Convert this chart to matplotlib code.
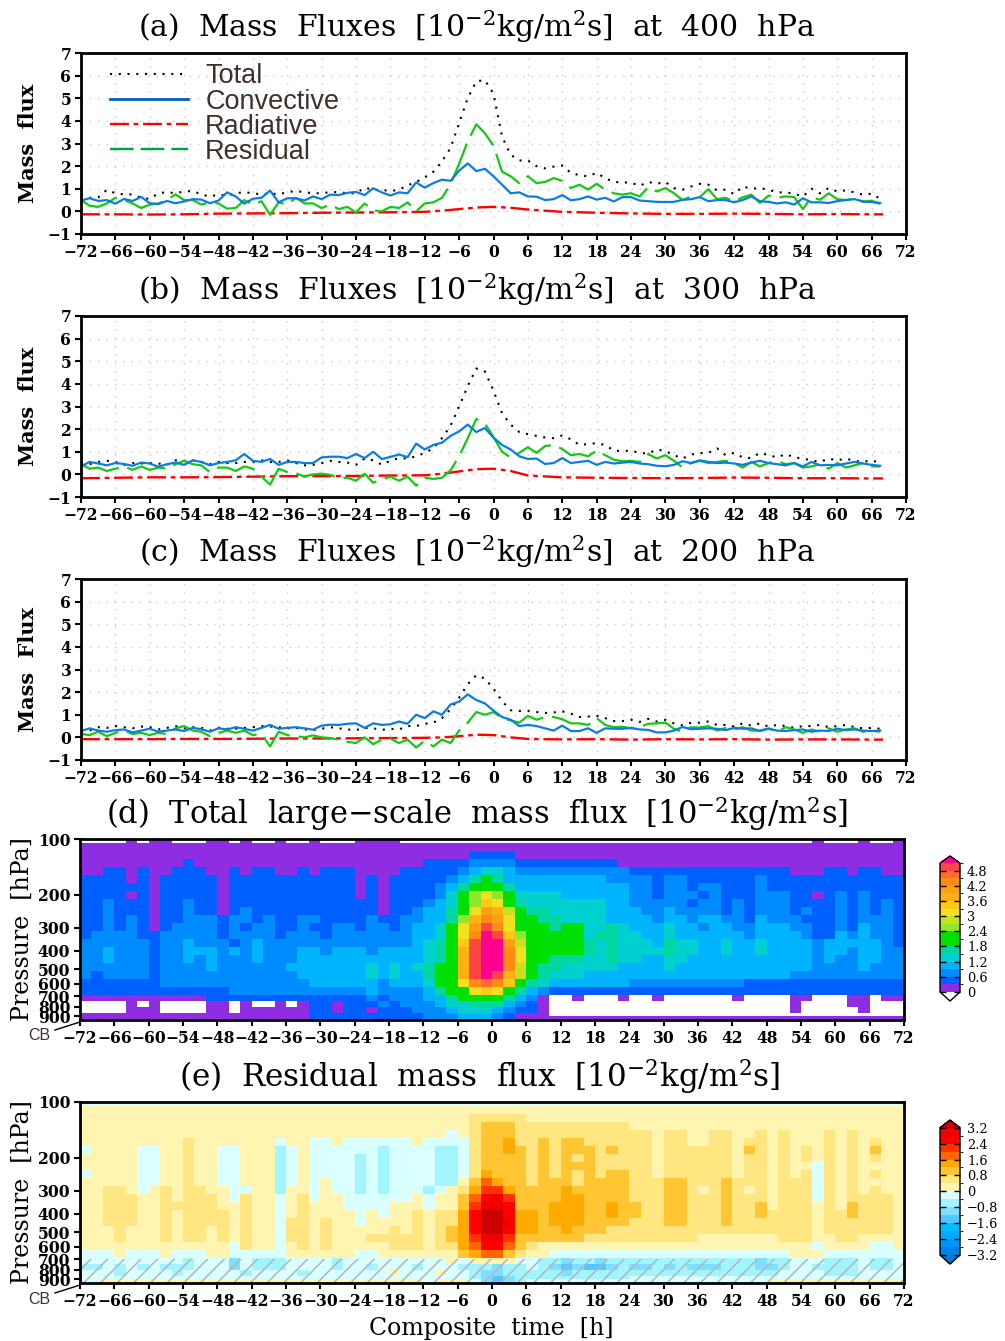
import numpy as np
import matplotlib
matplotlib.use("Agg")
import matplotlib.pyplot as plt
from matplotlib.colors import ListedColormap, BoundaryNorm
from matplotlib.lines import Line2D

W, H = 1005, 1341
plt.rcParams['font.family'] = ['DejaVu Serif']
plt.rcParams['mathtext.fontset'] = 'dejavuserif'
plt.rcParams['hatch.linewidth'] = 1.1

# time axis of the line panels (1.5 h steps)
time = np.arange(-72, 68, 1.5)
rad_time = [-72, -66, -60, -54, -48, -42, -36, -30, -24, -18, -12, -9, -6, -3, 0, 3,
            6, 12, 18, 24, 30, 36, 42, 48, 54, 60, 66, 68]

total_a = [.74, .60, .62, .95, .80, .75, .75, .60, .55, .80,
           .85, .80, .88, .90, .75, .65, .75, .70, .80, .85,
           .80, .75, .80, .75, .85, .90, .85, .80, .80, .85,
           .85, .80, .80, 1.05, .95, .95, .90, .95, 1.15, 1.30,
           1.50, 1.75, 2.20, 2.80, 3.90, 5.00, 5.75, 5.80, 5.20, 3.30,
           2.50, 2.25, 2.25, 2.00, 1.90, 1.98, 2.03, 1.70, 1.60, 1.55,
           1.70, 1.47, 1.30, 1.28, 1.27, 1.13, 1.30, 1.22, 1.30, 1.03,
           .96, 1.10, 1.22, 1.18, .93, .96, .76, 1.10, 1.00, 1.03,
           .96, .84, .84, .78, .66, 1.00, .80, 1.03, .88, .93,
           .84, .74, .78, .56]
conv_a = [.48, .58, .46, .50, .34, .55, .46, .64, .36, .32,
          .46, .36, .44, .54, .52, .36, .48, .84, .66, .34,
          .56, .60, .92, .40, .58, .58, .48, .66, .54, .74,
          .72, .82, .86, .72, 1.02, .84, .70, .84, .80, 1.28,
          1.05, 1.25, 1.40, 1.35, 1.80, 2.12, 1.78, 1.88, 1.55, 1.18,
          .80, .84, .66, .65, .50, .54, .72, .49, .54, .66,
          .52, .60, .44, .63, .63, .48, .45, .42, .41, .42,
          .51, .54, .63, .45, .50, .50, .40, .50, .66, .45,
          .42, .35, .40, .30, .58, .40, .40, .37, .45, .50,
          .54, .44, .41, .37]
resid_a = [.50, .25, .20, .35, .60, .50, .35, .15, .30, .35,
           .50, .75, .50, .50, .30, .40, .35, .12, .15, .50,
           .30, .45, -.15, .40, .30, .60, .35, .35, .15, .30,
           .10, .20, -.05, .35, .05, .00, .20, .15, .40, .00,
           .35, .40, .60, 1.20, 2.10, 3.10, 3.85, 3.45, 2.90, 1.75,
           1.55, 1.25, 1.55, 1.25, 1.30, 1.47, 1.35, 1.03, 1.18, .96,
           1.22, .96, .80, .74, .80, .66, 1.07, .88, 1.03, .80,
           .50, .66, .63, .98, .54, .60, .44, .62, .74, .37,
           .70, .60, .66, .63, .10, .63, .51, .80, .54, .50,
           .57, .42, .47, .33]
rad_a = [-.13, -.13, -.14, -.13, -.10, -.09, -.08, -.06, -.05, -.04, -.02, .03, .10, .17, .20, .16,
         .08, -.02, -.06, -.09, -.11, -.11, -.10, -.11, -.13, -.12, -.13, -.13]

total_b = [.5, .45, .55, .6, .55, .42, .5, .48, .5, .48, .42, .62, .6, .62, .55, .45, .55, .5, .5, .55,
           .55, .62, .55, .55, .62, .5,
           .4, .42, .5, .6, .55, .52, .42, .7, .62, .43, .6, .72, .7, .8, .95, 1.15, 1.6, 2.15, 3.0, 3.9,
           4.68, 4.55, 3.7, 2.7, 2.2, 1.87, 1.78, 1.7, 1.63, 1.6, 1.72, 1.55, 1.3, 1.34, 1.38, 1.3, 1.05,
           1.03, 1.05, .95, .92, 1.1, 1.03, .85, .7, .88, .94,
           .95, 1.15, .85, .95, .75, .72, .95, .85, .75, .9, .75, .7, .62, .55, .7, .62, .7, .6, .55, .62, .5]
conv_b = [.35, .55, .48, .4, .5, .46, .38, .52, .48, .34, .45, .52, .42, .62, .55, .4, .5, .55, .62, .9,
          .6, .55, .68, .42, .55, .55,
          .5, .5, .75, .78, .78, .72, .9, .72, 1.0, .68, .77, .88, .76, 1.36, 1.1, 1.3, 1.4, 1.7, 1.9, 2.2,
          1.87, 2.05, 1.62, 1.3, 1.1, .8, .68, .7, .46, .5, .72, .5, .55, .6, .42, .55, .48, .52, .55, .48,
          .45, .38, .36, .42, .58, .5, .62,
          .55, .5, .52, .48, .42, .52, .6, .5, .45, .4, .5, .35, .55, .4, .42, .4, .48, .55, .48, .42, .38]
resid_b = [.45, .25, .3, .15, .25, .35, .2, .35, .2, .3, .25, .45, .6, .45, .4, .1, .3, .3, .15, .35,
           .25, -.1, -.45, .25, .1, .05,
           -.1, .0, .03, -.02, -.18, -.15, -.28, .03, -.37, -.22, -.1, -.28, -.1, -.5, -.15, -.2, -.15, .18,
           .8, 1.6, 2.45, 2.25, 1.65, 1.0, .75, .95, 1.2, .95, 1.25, 1.3, 1.12, .85, .9, .8, 1.05, .85, .65,
           .58, .6, .55, .9, .7, .85, .6, .3, .5, .6,
           .5, .55, .6, .5, .3, .55, .35, .5, .6, .45, .5, .3, .35, .45, .25, .5, .3, .4, .5, .35, .35]
rad_b = [-.17, -.15, -.13, -.13, -.12, -.10, -.08, -.08, -.07, -.05, -.04, .03, .13, .23, .25, .15,
         -.05, -.13, -.15, -.16, -.17, -.16, -.14, -.15, -.17, -.17, -.18, -.18]

total_c = [.25, .3, .45, .42, .5, .45, .4, .48, .45, .35, .42, .5, .4, .45, .42, .3, .42, .38, .38, .42,
           .45, .5, .48, .45, .4, .42,
           .35, .33, .38, .45, .4, .35, .32, .42, .4, .33, .38, .35, .5, .5, .6, .65, .85, 1.25, 1.75, 2.35,
           2.75, 2.6, 2.15, 1.6, 1.2, 1.17, 1.17, 1.12, 1.08, 1.1, 1.15, 1.05, .9, .92, .95, .85, .72, .72,
           .78, .68, .82, .7, .77, .62, .53, .65, .65,
           .7, .55, .55, .48, .62, .52, .62, .48, .55, .5, .42, .5, .5, .55, .45, .5, .55, .45, .4, .42, .38]
conv_c = [.28, .4, .3, .25, .32, .35, .22, .3, .38, .25, .3, .35, .28, .42, .36, .25, .4, .35, .45, .38,
          .3, .42, .55, .38, .42, .45,
          .4, .34, .52, .56, .55, .6, .62, .42, .62, .55, .58, .7, .6, 1.0, .85, 1.15, 1.0, 1.45, 1.58, 1.9,
          1.65, 1.5, 1.18, .9, .78, .5, .55, .5, .4, .3, .52, .28, .28, .4, .2, .4, .38, .38, .41, .35, .33,
          .22, .22, .3, .46, .36, .38,
          .4, .38, .32, .42, .38, .4, .28, .38, .3, .28, .32, .35, .25, .3, .28, .38, .32, .35, .3, .28, .3]
resid_c = [.15, .1, .25, .05, .2, .3, .15, .2, .1, .2, .15, .4, .5, .3, .25, .05, .2, .3, .2, .3,
           .1, .15, -.4, .25, .1, .05,
           .0, .09, .0, -.03, -.1, -.2, -.25, .0, -.3, -.1, -.05, -.25, -.1, -.45, -.15, -.4, -.1, -.25, .3,
           .65, 1.12, 1.0, 1.12, .85, .75, .65, .95, .78, .9, .9, .8, .62, .62, .55, .85, .55, .45, .47, .4,
           .45, .6, .62, .65, .38, .25, .45, .43,
           .5, .3, .42, .35, .45, .3, .3, .4, .25, .45, .35, .2, .35, .25, .4, .25, .35, .4, .25, .3, .25]
rad_c = [-.08, -.08, -.08, -.07, -.07, -.06, -.05, -.05, -.04, -.03, -.02, .0, .05, .12, .10, .0,
         -.07, -.09, -.08, -.10, -.08, -.09, -.08, -.10, -.09, -.09, -.10, -.10]

# grid of the two shaded panels: 2 h columns, rows between these pressures
time_edges = np.arange(-72, 73, 2)
plev_edges = [100, 105, 116, 128, 141, 156, 172, 190, 210, 232, 256, 283, 312, 345, 381, 421,
              465, 513, 567, 626, 691, 743, 800, 861, 893, 940]

# panel d: one character per cell, the index of the 0.3 wide class ('.' = below 0)
total_rows = [
    "....0.00...00.0..0..0...0" "000...................." "................0...0..0",
    "0000000000000000000000000" "00000000000000000000000" "000000000000000000000000",
    "0000000000000000000000000" "00000000011110000000000" "000000000000000000000000",
    "0000000001000000000000000" "00000111122221111111110" "000000000000000000000000",
    "0011010011100101100101110" "00011111234432222222222" "111111111111110001101100",
    "1111010111110111111111110" "10111112356533333333322" "221221111112111111111111",
    "1111110111110111111111110" "10111123567653333333333" "221221221112111111111111",
    "1111010111110111111111110" "1011112468a864444333333" "221222121112221101212111",
    "1121110112110111111111111" "1011123468ba75444444433" "222221221212221111212121",
    "1121110112110121111111111" "101123357adc96554444433" "322322221212221211212121",
    "1121210112221221211221111" "21122335" "8ced" "a76" "55" "444433" "332332332213222111212221",
    "1121210122221212211211221" "22123346" "adgea7" "665664454" "333433233223332211213221",
    "1222211222221222212221222" "2222334" "6aehgb8" "66666" "4554" "433433333323333211323221",
    "2222221223222123222222222" "2222345" "7bghhd9" "66666" "5454" "443544334334333323333321",
    "2232221223332323222332333" "2333345" "7cghhea" "66666" "5454" "444544334334333323323322",
    "2232221223232223222333333" "3333345" "7cghhea" "66555" "4454" "433443333333333323223322",
    "222222" "1" "2222" "3" "222222" "3333333" "4343456" "7cghhe9" "65544" "4443" "333433333333" "333322223222",
    "2122221222222222222333333" "4343356" "7cghgc9" "65444" "3333" "333333333333" "332222222222",
    "1111111" "2222222222222" "33333" "3233346" "7aefeb6" "54333" "3333" "222222222211" "111111111111",
    "1111111111111" "222222222222" "3222235" "67aba65" "32111" "1111" "111111111111" "111111111111",
    "00000000000" "11111" "111111111" "2122233" "5666653" "20..0" "...0" "..0......0.." "..00...00.00",
    "....0.0....00.0..0.011011" "1212223" "4455532" "10..." "...." "............" "..0....00...",
    "....000....00.000000" "11011" "0111222" "3444321" "10..." "...." "............" "..0.....0...",
    "00000000000000000000" "11111" "1111122" "2333210" "00..." "...." "............" "............",
    "00000000000000000000" "11111" "1111122" "2333210" "00000" "0000" "000000000000" "000000000000",
]

# panel e: one character per cell, '1'-'9' above 0 and 'a'-'e' below 0
resid_classes = {'1': .2, '2': .6, '3': 1.0, '4': 1.4, '5': 1.8, '6': 2.2, '7': 2.6, '8': 3.0, '9': 3.4,
                 'a': -.2, 'b': -.6, 'c': -1.0, 'd': -1.4, 'e': -1.8}
resid_rows = [
    "a" * 72,
    "1" * 72,
    "1" * 34 + "22222" + "1" * 33,
    "1" * 34 + "23332" + "222222222" + "1" * 24,
    "1" * 25 + "1111111a1" "23332" "222222222" "221221122112" "121112121111",
    "1111111112" "1111111" "a" "11" "aa" "1" "aa" "aaaa1aaaa" "23342" "232332222" "221221122122" "121112121211",
    "a1111aa11211aa111ba1aaaaa" "abaaaabba" "23343" "232333232" "221222222132" "121212121311",
    "11111aa11211aa111ba1aaaab" "abaaaabba" "23333" "232323222" "221222222122" "121212121211",
    "11111aa11211aa111ba1aaaab" "abaaaabba" "23333" "232333222" "221222222122" "1211a2121111",
    "a1111aa11211aa111ba1aaaab" "abaaaabba" "24333" "232323233" "221222222122" "1212a2121211",
    "11111aa11211aa111ba1a1aab" "abaaaabb1" "35433" "233323333" "222332223222" "1222a2121111",
    "11221a1212211aa11b11a1aab" "abaaaba12" "46643" "333433333" "222332123212" "1222a2121211",
    "1122211212221a211a12a11aa" "aaaa1a113" "57863" "333443333" "222332223222" "1222a2122221",
    "11222112222211211a12111aa" "aa111a113" "68873" "334443343" "322332223223" "122212132221",
    "112221121222212" "11a12" "1111a" "1a1121224" "79974" "434443343" "322332223223" "222212232221",
    "112221121222212" "11a22" "1211a" "111121224" "79984" "434443333" "222332223222" "222212222221",
    "111211121221212" "11a22" "12111" "112121234" "79974" "433433322" "222222222222" "222212222221",
    "111211121221212" "11a22" "12111" "222221234" "68863" "333332222" "222222111111" "122211221111",
    "1111111111111a2" "11a12" "12111" "112221224" "57753" "211111111" "111111111111" "1111a1111aa1",
    "aaa1aaa1aaa11aaaaa111111a" "a11111113" "45532" "11aaaaaaa" "aaaaaaaaaaaa" "aa111aaaaaaa",
    "aaaaaaaaabaaacabbbaaaabaa" "aaaaaaa1a" "1111a" "abbcbbcbb" "bbbbbbbbbbbc" "bbaaabbbabba",
    "bbabababbbaaacabbbaaaabaa" "baaabaaab" "bbcbb" "abcdcddcb" "ccbcbcccbbbc" "cbaabbbbabba",
    "aaabaaaabaaaaabaaaabaaaaa" "aa1aaa1aa" "bccbb" "bbbcbbbbb" "bbbbbbbbbbbb" "baaaabbbaaaa",
    "a" * 25 + "aaaaaaaaa" "bcdcb" "bbbbbbbbb" "aaaaaaaaaaaa" "aaaaaaaaaaaa",
    "aa" + "1" * 23 + "11111a111" "acdcb" "aaaaaaaaa" "aaaaaaaaaaaa" "111111111111",
]

total_levels = np.arange(0, 5.2, 0.3)
total_colors = ['#8e2de2', '#0060ff', '#008cff', '#00b4ff', '#00d0d0', '#00d8a0', '#00e000', '#00e000',
                '#90e628', '#c8e020', '#f5e020', '#ffc814', '#ffb014', '#ffa010', '#ff8a14', '#ff6a2e', '#ff4646']
resid_levels = np.arange(-3.2, 3.3, 0.4)
resid_colors = ['#0082e6', '#0096f5', '#00aaff', '#00beff', '#50c8ff', '#80dfff', '#a0f5ff', '#d9ffff',
                '#fff5b0', '#ffe680', '#ffc533', '#ffaa00', '#ff6600', '#ff3300', '#ff0000', '#f00000']

xticks = np.arange(-72, 73, 6)
pticks = [100, 200, 300, 400, 500, 600, 700, 800, 900]
brown = '#40302c'

fig = plt.figure(figsize=(W / 100, H / 100), dpi=100)


def px_axes(x0, y0, x1, y1):
    return fig.add_axes([x0 / W, 1 - y1 / H, (x1 - x0) / W, (y1 - y0) / H])


def px_text(x, y, s, **kw):
    kw.setdefault('ha', 'center')
    kw.setdefault('va', 'center')
    return fig.text(x / W, 1 - y / H, s, **kw)


def style_axis(ax):
    for s in ax.spines.values():
        s.set_linewidth(2)
    ax.set_xlim(-72, 72)
    ax.set_xticks(xticks)
    ax.tick_params(axis='both', which='major', length=4, width=1.5, pad=3)
    for lab in ax.get_xticklabels() + ax.get_yticklabels():
        lab.set_fontweight('bold')
        lab.set_fontsize(11.2)


def line_panel(box, total, conv, rad, resid, ylabel, ypos):
    ax = px_axes(*box)
    ax.plot(time, total, color='black', lw=1.5, ls=(0, (1, 3.2)))
    ax.plot(rad_time, rad, color='#ff0000', lw=1.7, ls=(0, (8, 2, 2, 2)))
    ax.plot(time, resid, color='#14c814', lw=1.6, ls=(0, (18, 4)))
    ax.plot(time, conv, color='#0a7ee0', lw=1.6)
    ax.set_ylim(-1, 7)
    ax.set_yticks(range(-1, 8))
    ax.grid(True, color='#c8c8c8', lw=1, ls=(0, (1, 5)))
    ax.set_axisbelow(True)
    style_axis(ax)
    px_text(28, ypos, ylabel, rotation=90, fontsize=15, fontweight='bold')
    return ax


def shaded_panel(box, rows, decode, levels, colors, under, over, ylabel_y):
    z = np.array([[decode(ch) for ch in r.ljust(72, r[-1])[:72]] for r in rows])
    cmap = ListedColormap(colors)
    cmap.set_under(under)
    cmap.set_over(over)
    norm = BoundaryNorm(levels, len(colors))
    ax = px_axes(*box)
    mesh = ax.pcolormesh(time_edges, plev_edges, z, cmap=cmap, norm=norm)
    ax.set_yscale('log')
    ax.set_ylim(940, 100)
    ax.set_yticks(pticks)
    ax.set_yticklabels([str(p) for p in pticks])
    ax.minorticks_off()
    ax.tick_params(axis='y', which='minor', length=0)
    style_axis(ax)
    px_text(22, ylabel_y, 'Pressure  [hPa]', rotation=90, fontsize=17)
    # CB mark under the axis
    y1 = box[3]
    fig.add_artist(Line2D([55 / W, 80 / W], [1 - (y1 + 10) / H, 1 - (y1 + 2) / H], color='black', lw=1))
    px_text(39, y1 + 16, 'CB', fontsize=11.5, family='Liberation Sans', color=brown)
    return ax, mesh


def add_colorbar(mesh, box, ticks, ext):
    cax = px_axes(*box)
    cb = fig.colorbar(mesh, cax=cax, extend='both', ticks=ticks, extendfrac=ext, drawedges=False)
    cb.outline.set_linewidth(1)
    cax.tick_params(length=4, width=1, direction='in', labelsize=9.3, pad=5, left=True, right=True)
    cax.set_yticklabels(['%g' % v if v >= 0 else '\u2212%g' % -v for v in np.round(ticks, 1) + 0.0])


px_text(477, 27, r'(a)  Mass  Fluxes  [10$^{-2}$kg/m$^{2}$s]  at  400  hPa', fontsize=21.5)
px_text(477, 290, r'(b)  Mass  Fluxes  [10$^{-2}$kg/m$^{2}$s]  at  300  hPa', fontsize=21.5)
px_text(477, 552, r'(c)  Mass  Fluxes  [10$^{-2}$kg/m$^{2}$s]  at  200  hPa', fontsize=21.5)
px_text(477, 813, r'(d)  Total  large$-$scale  mass  flux  [10$^{-2}$kg/m$^{2}$s]', fontsize=22)
px_text(479, 1076, r'(e)  Residual  mass  flux  [10$^{-2}$kg/m$^{2}$s]', fontsize=22.3)

ax_a = line_panel((81, 53, 906, 234), total_a, conv_a, rad_a, resid_a, 'Mass  flux', 143)
line_panel((81, 316, 906, 497), total_b, conv_b, rad_b, resid_b, 'Mass  flux', 406)
line_panel((81, 579, 906, 760), total_c, conv_c, rad_c, resid_c, 'Mass  Flux', 669)

handles = [Line2D([], [], color='black', lw=1.5, ls=(0, (1, 3.2))),
           Line2D([], [], color='#0060b8', lw=2),
           Line2D([], [], color='#ff0000', lw=1.7, ls=(0, (8, 2, 2, 2))),
           Line2D([], [], color='#00a040', lw=1.7, ls=(0, (10, 3)))]
ax_a.legend(handles, ['Total', 'Convective', 'Radiative', 'Residual'], loc='upper left',
            bbox_to_anchor=(0.035, 0.943), frameon=False, borderpad=0, borderaxespad=0,
            handlelength=2.9, handletextpad=0.62, labelspacing=-0.03,
            prop={'family': 'Liberation Sans', 'size': 19.5}, labelcolor=brown)

ax_d, mesh_d = shaded_panel((80, 839, 904, 1020), total_rows,
                            lambda ch: -0.15 if ch == '.' else 0.15 + 0.3 * int(ch, 36),
                            total_levels, total_colors, 'white', '#ff0090', 929)
ax_e, mesh_e = shaded_panel((80, 1102, 904, 1283), resid_rows, lambda ch: resid_classes[ch],
                            resid_levels, resid_colors, '#0078d8', '#cc0000', 1192)
# hatching below cloud base
ax_e.axhspan(700, 940, facecolor='none', edgecolor='#b4b4b4', hatch='//', lw=0)

add_colorbar(mesh_d, (940, 856, 960, 1001), np.arange(0, 4.9, 0.6), (0.07, 0.055))
add_colorbar(mesh_e, (940, 1120, 960, 1264), np.arange(-3.2, 3.3, 0.8), (0.07, 0.06))

px_text(491, 1328, 'Composite  time  [h]', fontsize=17)

fig.savefig('out.png', dpi=100)
